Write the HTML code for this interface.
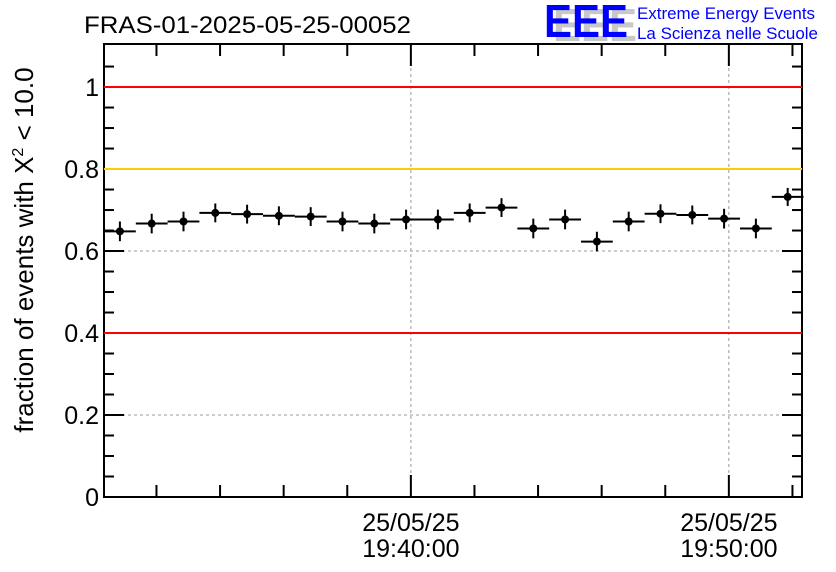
<!DOCTYPE html>
<html><head><meta charset="utf-8"><style>
body{margin:0;background:#fff;}
svg{display:block;font-family:"Liberation Sans",sans-serif;}
</style></head><body>
<svg id="c" width="836" height="572" viewBox="0 0 836 572">
<text x="84" y="33" font-size="24" fill="#000" textLength="327" lengthAdjust="spacingAndGlyphs">FRAS-01-2025-05-25-00052</text>
<g>
<text x="553" y="41" font-size="46" font-weight="bold" fill="#c8c8c8" textLength="84" lengthAdjust="spacingAndGlyphs">EEE</text>
<text x="544" y="37" font-size="46" font-weight="bold" fill="#0000ff" textLength="84" lengthAdjust="spacingAndGlyphs">EEE</text>
<text x="637" y="19" font-size="17" fill="#0000ff" textLength="178" lengthAdjust="spacingAndGlyphs">Extreme Energy Events</text>
<text x="637" y="39" font-size="17" fill="#0000ff" textLength="181" lengthAdjust="spacingAndGlyphs">La Scienza nelle Scuole</text>
</g>
<text transform="translate(33,250) rotate(-90)" text-anchor="middle" font-size="26">fraction of events with X<tspan dy="-10" font-size="16">2</tspan><tspan dy="10"> &lt; 10.0</tspan></text>
<g id="grid"></g><g id="axes"></g><g id="lines"></g><g id="marks"></g>
</svg>
<script>
const binStarts=[-579,-519,-459,-399,-339,-279,-219,-159,-99,-39,21,81,141,201,261,321,381,441,501,561,621,681];
const fractions=[0.648,0.667,0.672,0.693,0.690,0.686,0.684,0.672,0.667,0.677,0.677,0.693,0.706,0.655,0.677,0.623,0.672,0.691,0.688,0.679,0.655,0.732];
const errors=[0.024,0.024,0.024,0.023,0.023,0.023,0.023,0.024,0.024,0.024,0.024,0.023,0.023,0.024,0.024,0.024,0.024,0.023,0.023,0.024,0.024,0.022];
const yTicks=[0,0.2,0.4,0.6,0.8,1];
const yTickLabels=["0","0.2","0.4","0.6","0.8","1"];
const xLabelTimes=[0,600];
const xLabels=[["25/05/25","19:40:00"],["25/05/25","19:50:00"]];
const refLines=[[1.0,"#ff0000"],[0.8,"#ffcc00"],[0.4,"#ff0000"]];
const binWidth=60;
const L=104,R=802,T=44,B=497,tMin=-579,tMax=738,yMax=1.105;
const X=t=>L+(t-tMin)/(tMax-tMin)*(R-L);
const Y=v=>B-v/yMax*(B-T);
const NS="http://www.w3.org/2000/svg";
function mk(tag,attrs,parent){const e=document.createElementNS(NS,tag);for(const k in attrs)e.setAttribute(k,attrs[k]);document.getElementById(parent).appendChild(e);return e;}
yTicks.forEach(v=>{if(v>0&&v<1.05){const g=mk('line',{x1:L,x2:R,y1:Y(v),y2:Y(v),stroke:'#999','stroke-dasharray':'3,3'},'grid');

}});
xLabelTimes.forEach(t=>{const g=mk('line',{x1:X(t),x2:X(t),y1:T,y2:B,stroke:'#999','stroke-dasharray':'3,3'},'grid');

});
refLines.forEach(r=>{const l=mk('line',{x1:L,x2:R,y1:Y(r[0]),y2:Y(r[0]),stroke:r[1],'stroke-width':2},'lines');

});
binStarts.forEach((s,i)=>{const cx=X(s+binWidth/2),cy=Y(fractions[i]);
const g=mk('g',{},'marks');


const h=document.createElementNS(NS,'line');h.setAttribute('x1',X(s));h.setAttribute('x2',X(s+binWidth));h.setAttribute('y1',cy);h.setAttribute('y2',cy);h.setAttribute('stroke','#000');h.setAttribute('stroke-width',2);g.appendChild(h);
const v=document.createElementNS(NS,'line');v.setAttribute('x1',cx);v.setAttribute('x2',cx);v.setAttribute('y1',Y(fractions[i]+errors[i]));v.setAttribute('y2',Y(fractions[i]-errors[i]));v.setAttribute('stroke','#000');v.setAttribute('stroke-width',2);g.appendChild(v);
const c=document.createElementNS(NS,'circle');c.setAttribute('cx',cx);c.setAttribute('cy',cy);c.setAttribute('r',4);c.setAttribute('fill','#000');g.appendChild(c);});
const f=mk('rect',{x:L,y:T,width:R-L,height:B-T,fill:'none',stroke:'#000','stroke-width':2},'axes');


for(let v=0;v<=1.1;v+=0.05){const vv=Math.round(v*100)/100;const maj=Math.abs(vv*5-Math.round(vv*5))<1e-6;const len=maj?20:10;
mk('line',{x1:L,x2:L+len,y1:Y(vv),y2:Y(vv),stroke:'#000','stroke-width':2},'axes');
mk('line',{x1:R-len,x2:R,y1:Y(vv),y2:Y(vv),stroke:'#000','stroke-width':2},'axes');}
yTicks.forEach((v,i)=>{const t=mk('text',{x:L-5,y:Y(v)+9,'text-anchor':'end','font-size':25},'axes');t.textContent=yTickLabels[i];

});
for(let t=-480;t<=720;t+=120){const maj=xLabelTimes.includes(t);const len=maj?22:12;
mk('line',{x1:X(t),x2:X(t),y1:B-len,y2:B,stroke:'#000','stroke-width':2},'axes');
mk('line',{x1:X(t),x2:X(t),y1:T,y2:T+len,stroke:'#000','stroke-width':2},'axes');}
xLabelTimes.forEach((t,i)=>{[0,1].forEach(j=>{const e=mk('text',{x:X(t),y:531+j*26,'text-anchor':'middle','font-size':25},'axes');e.textContent=xLabels[i][j];

});});
</script>
</body></html>
